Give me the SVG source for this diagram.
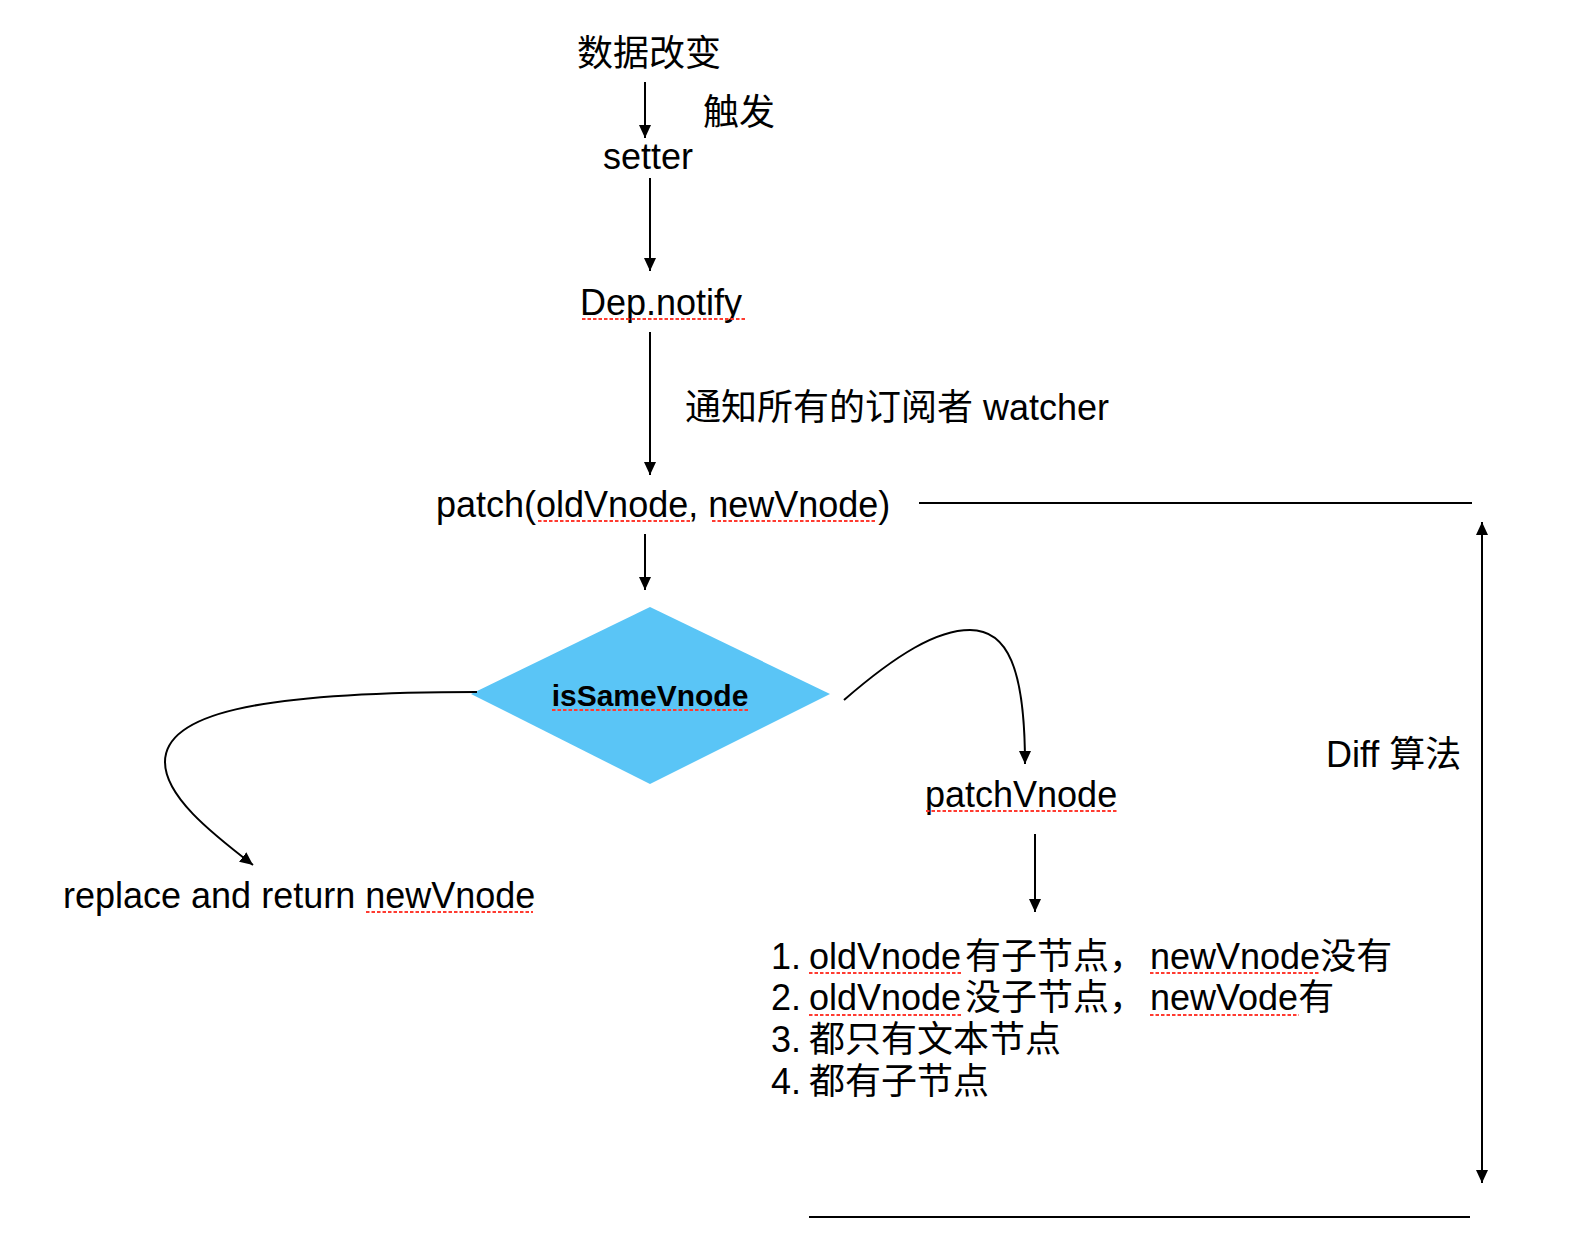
<svg xmlns="http://www.w3.org/2000/svg" width="1572" height="1260" viewBox="0 0 1572 1260">
<style>
  text { font-family: "Liberation Sans", "Noto Sans CJK SC", sans-serif; font-size: 36px; fill: #000; }
  .bold { font-weight: bold; font-size: 30px; }
  .edge { fill: none; stroke: #000; stroke-width: 2; }
  .spell { fill: none; stroke: #FF3B30; stroke-width: 2.2; stroke-dasharray: 3.5 2; }
  .rule { fill: none; stroke: #000; stroke-width: 2; }
</style>
<defs>
  <marker id="arrow" markerUnits="userSpaceOnUse" markerWidth="14" markerHeight="12" refX="13" refY="6" orient="auto-start-reverse">
    <path d="M0,0 L13,6 L0,12 z" fill="#000"/>
  </marker>
</defs>
<rect width="1572" height="1260" fill="#fff"/>

<g id="n-data"><text x="577" y="66">数据改变</text></g>
<g id="n-setter"><text x="603" y="169">setter</text></g>
<g id="n-dep">
  <text x="580" y="315">Dep.notify</text>
  <line class="spell" x1="582" y1="319" x2="747" y2="319"/>
</g>
<g id="n-patch">
  <text x="436" y="517">patch(oldVnode, newVnode)</text>
  <line class="spell" x1="538" y1="521" x2="692" y2="521"/>
  <line class="spell" x1="712" y1="521" x2="877" y2="521"/>
</g>
<g id="n-issame">
  <polygon points="650,607 830,694 650,784 471,694" fill="#5AC5F6"/>
  <text class="bold" x="650" y="706" text-anchor="middle">isSameVnode</text>
  <line class="spell" x1="552" y1="710" x2="748" y2="710"/>
</g>
<g id="n-replace">
  <text x="63" y="908">replace and return newVnode</text>
  <line class="spell" x1="366" y1="912" x2="533" y2="912"/>
</g>
<g id="n-patchvnode">
  <text x="925" y="807">patchVnode</text>
  <line class="spell" x1="926" y1="811" x2="1117" y2="811"/>
</g>
<g id="n-list">
  <text y="969"><tspan x="771">1.</tspan><tspan x="809">oldVnode</tspan><tspan x="965">有子节点，</tspan><tspan x="1150">newVnode没有</tspan></text>
  <text y="1010"><tspan x="771">2.</tspan><tspan x="809">oldVnode</tspan><tspan x="965">没子节点，</tspan><tspan x="1150">newVode有</tspan></text>
  <text y="1052"><tspan x="771">3.</tspan><tspan x="809">都只有文本节点</tspan></text>
  <text y="1094"><tspan x="771">4.</tspan><tspan x="809">都有子节点</tspan></text>
  <line class="spell" x1="809" y1="973" x2="963" y2="973"/>
  <line class="spell" x1="1150" y1="973" x2="1320" y2="973"/>
  <line class="spell" x1="809" y1="1015" x2="963" y2="1015"/>
  <line class="spell" x1="1150" y1="1015" x2="1299" y2="1015"/>
</g>
<g id="n-diff">
  <text x="1326" y="767">Diff 算法</text>
  <line class="rule" x1="919" y1="503" x2="1472" y2="503"/>
  <line class="rule" x1="809" y1="1217" x2="1470" y2="1217"/>
  <line class="edge" x1="1482" y1="522" x2="1482" y2="1183" marker-start="url(#arrow)" marker-end="url(#arrow)"/>
</g>

<g id="connectors">
  <line class="edge" x1="645" y1="82" x2="645" y2="138" marker-end="url(#arrow)"/>
  <text x="703" y="125">触发</text>
  <line class="edge" x1="650" y1="178" x2="650" y2="271" marker-end="url(#arrow)"/>
  <line class="edge" x1="650" y1="332" x2="650" y2="475" marker-end="url(#arrow)"/>
  <text x="685" y="420">通知所有的订阅者 watcher</text>
  <line class="edge" x1="645" y1="534" x2="645" y2="590" marker-end="url(#arrow)"/>
  <path class="edge" d="M477,692 C250,692 165,715 165,762 C165,796 210,832 253,865" marker-end="url(#arrow)"/>
  <path class="edge" d="M844,700 C897,654 937,630 970,630 C1007,630 1025,667 1025,764" marker-end="url(#arrow)"/>
  <line class="edge" x1="1035" y1="834" x2="1035" y2="912" marker-end="url(#arrow)"/>
</g>
</svg>
